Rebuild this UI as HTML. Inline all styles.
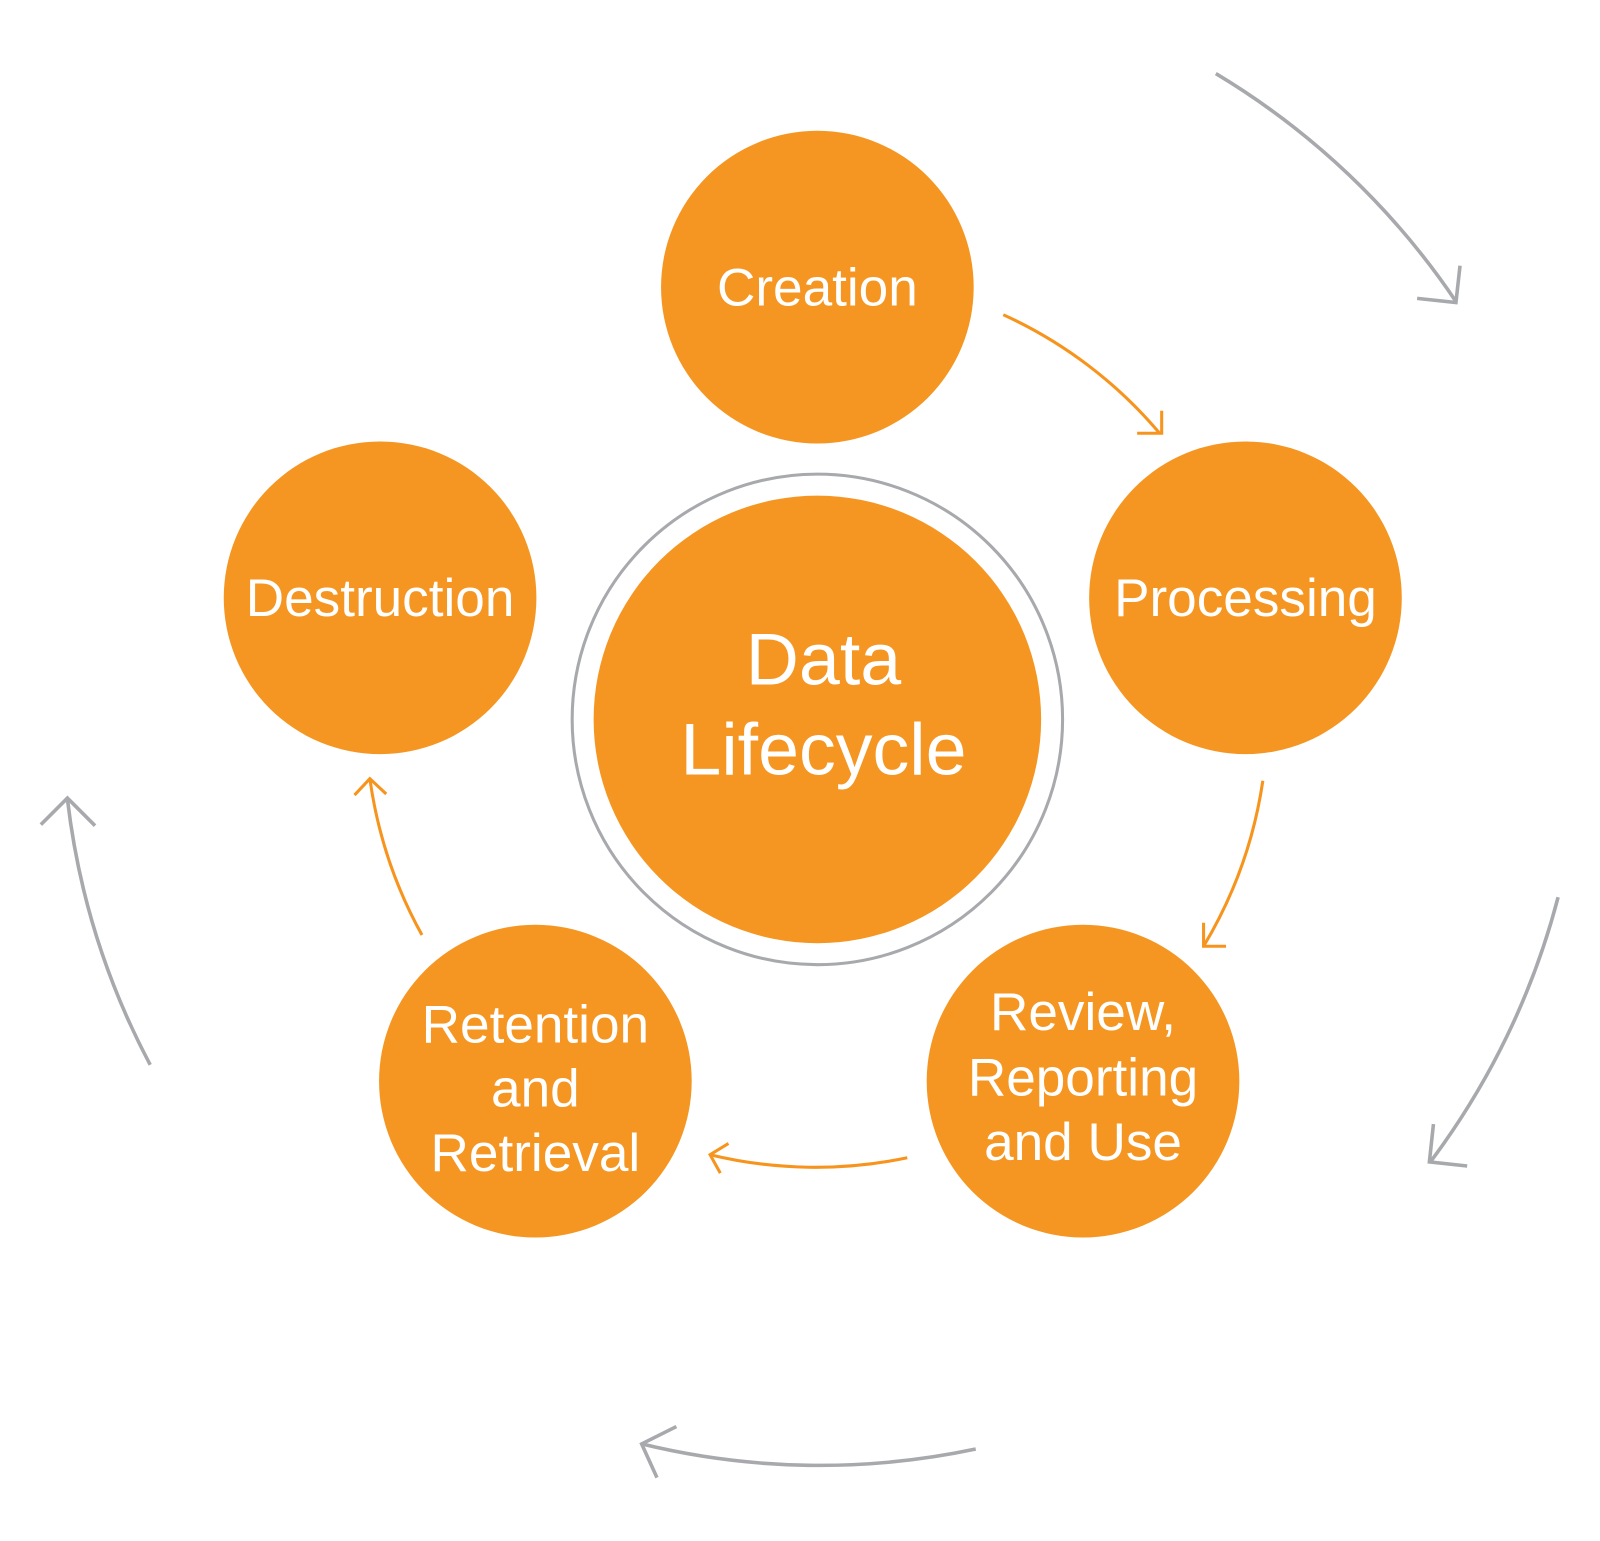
<!DOCTYPE html>
<html><head><style>
html,body{margin:0;padding:0;background:#fff;}
svg{display:block;}
text{font-family:"Liberation Sans",sans-serif;fill:#fff;text-anchor:middle;}
</style></head><body>
<svg width="1600" height="1541" viewBox="0 0 1566 1508" preserveAspectRatio="none">
<g fill="#f59622">
<circle cx="800" cy="281" r="153"/>
<circle cx="1219" cy="585" r="153"/>
<circle cx="1060" cy="1058" r="153"/>
<circle cx="524" cy="1058" r="153"/>
<circle cx="372" cy="585" r="153"/>
<circle cx="800" cy="704" r="219"/>
</g>
<circle cx="800" cy="704" r="240" fill="none" stroke="#a7a9ac" stroke-width="3"/>
<g font-size="52">
<text x="800" y="299">Creation</text>
<text x="1219" y="603">Processing</text>
<text x="372" y="603">Destruction</text>
<text x="1060" y="1008">Review,</text>
<text x="1060" y="1072">Reporting</text>
<text x="1060" y="1135">and Use</text>
<text x="524" y="1020">Retention</text>
<text x="524" y="1083">and</text>
<text x="524" y="1146">Retrieval</text>
</g>
<text x="806" y="670" font-size="72">Data</text>
<text x="806" y="758" font-size="72">Lifecycle</text>
<g fill="none" stroke="#f7941d" stroke-width="3">
<path d="M982,308 A437,437 0 0 1 1135,424"/>
<polyline points="1113,424 1137,424 1137,402"/>
<path d="M1236,764 A439,439 0 0 1 1178,926"/>
<polyline points="1178,903 1178,926 1200,926"/>
<path d="M888,1133 A439,439 0 0 1 695,1130"/>
<polyline points="713,1119 695,1130 705,1148"/>
<path d="M413,915 A441,441 0 0 1 362,762"/>
<polyline points="347,778 362,762 378,777"/>
</g>
<g fill="none" stroke="#a7a9ac" stroke-width="3.5">
<path d="M1190,72 A745,745 0 0 1 1425,295"/>
<polyline points="1387,292 1425,296 1429,260"/>
<path d="M1525,878 A745,745 0 0 1 1400,1137"/>
<polyline points="1403,1100 1399,1137 1436,1141"/>
<path d="M955,1418 A735,735 0 0 1 628,1413"/>
<polyline points="662,1396 628,1413 643,1446"/>
<path d="M147,1042 A738,738 0 0 1 66,782"/>
<polyline points="40,807 66,781 93,808"/>
</g>
</svg>
</body></html>
